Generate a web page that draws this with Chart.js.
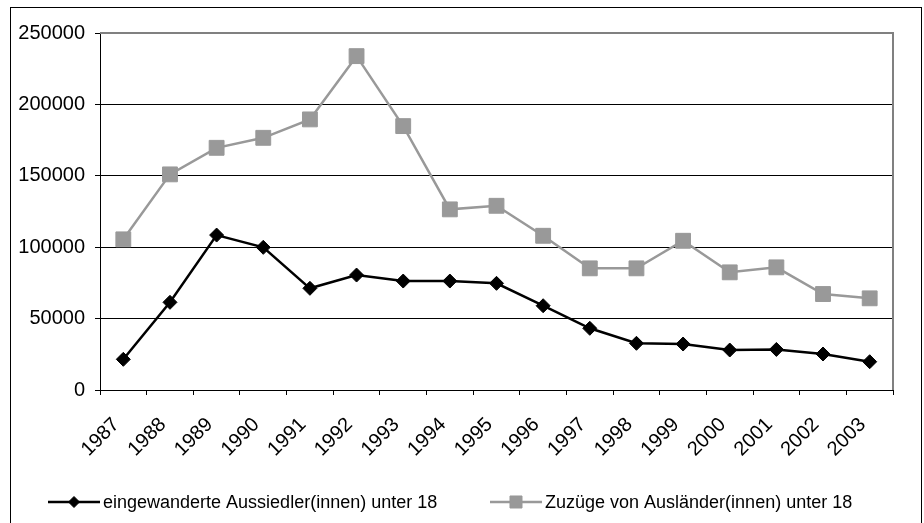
<!DOCTYPE html>
<html>
<head>
<meta charset="utf-8">
<script src="https://cdn.jsdelivr.net/npm/chart.js@4"></script>
<style>
    html, body { margin: 0; padding: 0; background: #fff; }
    #wrap { position: relative; width: 924px; height: 523px; }
</style>
</head>
<body>
<div id="wrap"><canvas id="chart" width="924" height="523"></canvas></div>
<script>
// Data
const years = ['1987', '1988', '1989', '1990', '1991', '1992', '1993', '1994', '1995',
    '1996', '1997', '1998', '1999', '2000', '2001', '2002', '2003'];
const aussiedler = [21500, 61400, 108500, 99900, 71200, 80500, 76300, 76300, 74700,
    59000, 43200, 32700, 32200, 28000, 28400, 25200, 19800];
const auslaender = [105500, 151000, 169600, 176600, 189500, 233800, 184800, 126500, 129000,
    108000, 85200, 85200, 104500, 82400, 85900, 67200, 64200];
const yTicks = [0, 50000, 100000, 150000, 200000, 250000];

const FONT = "'Liberation Sans', Arial, sans-serif";

// Frame around whole chart + gray plot border (top/right) + custom legend
const decorPlugin = {
    id: 'decor',
    beforeDatasetsDraw(chart) {
        const { ctx, chartArea: a } = chart;
        ctx.save();
        ctx.strokeStyle = '#808080';
        ctx.lineWidth = 2;
        ctx.beginPath();
        ctx.moveTo(a.left, a.top);
        ctx.lineTo(a.right, a.top);
        ctx.lineTo(a.right, a.bottom);
        ctx.stroke();
        ctx.restore();
    },
    afterDraw(chart) {
        const ctx = chart.ctx;
        ctx.save();
        // outer frame
        ctx.strokeStyle = '#000';
        ctx.lineWidth = 1;
        ctx.strokeRect(10.5, 7.5, 911, 530);

        // legend
        const ly = chart.height - 21;
        const items = [
            { x: 48, ds: chart.data.datasets[0], r: 5.5 },
            { x: 490, ds: chart.data.datasets[1], r: 8.5 }
        ];
        ctx.font = '18px ' + FONT;
        ctx.textBaseline = 'middle';
        ctx.textAlign = 'left';
        items.forEach(it => {
            ctx.strokeStyle = it.ds.borderColor;
            ctx.lineWidth = 2.5;
            ctx.beginPath();
            ctx.moveTo(it.x, ly);
            ctx.lineTo(it.x + 52, ly);
            ctx.stroke();
            ctx.fillStyle = it.ds.pointBackgroundColor;
            ctx.lineWidth = 1;
            Chart.helpers.drawPoint(ctx, { pointStyle: it.ds.pointStyle, radius: it.r, borderWidth: 1 }, it.x + 26, ly);
            ctx.fillStyle = '#000';
            ctx.fillText(it.ds.label, it.x + 55, ly + 1);
        });
        ctx.restore();
    }
};

const ctx = document.getElementById('chart');
new Chart(ctx, {
    type: 'line',
    data: {
        labels: years,
        datasets: [{
            label: 'eingewanderte Aussiedler(innen) unter 18',
            data: aussiedler,
            borderColor: '#000',
            backgroundColor: '#000',
            pointBackgroundColor: '#000',
            pointBorderColor: '#000',
            pointStyle: 'rectRot',
            pointRadius: 7,
            pointBorderWidth: 1,
            borderWidth: 2.5,
            tension: 0
        }, {
            label: 'Zuzüge von Ausländer(innen) unter 18',
            data: auslaender,
            borderColor: '#999999',
            backgroundColor: '#999999',
            pointBackgroundColor: '#999999',
            pointBorderColor: '#999999',
            pointStyle: 'rect',
            pointRadius: 10.5,
            pointBorderWidth: 1,
            borderWidth: 2.5,
            tension: 0
        }]
    },
    options: {
        responsive: false,
        animation: false,
        layout: { padding: { top: 33, right: 31, bottom: 53, left: 0 } },
        plugins: {
            legend: { display: false },
            tooltip: { enabled: false }
        },
        scales: {
            x: {
                type: 'category',
                offset: true,
                afterFit(scale) { scale.height = 80; },
                grid: {
                    offset: true,
                    drawOnChartArea: false,
                    drawTicks: true,
                    tickLength: 5,
                    color: '#000'
                },
                border: { color: '#000', width: 1 },
                ticks: {
                    autoSkip: false,
                    maxRotation: 45,
                    minRotation: 45,
                    labelOffset: -7,
                    padding: 18,
                    color: '#000',
                    font: { family: FONT, size: 20 }
                }
            },
            y: {
                min: 0,
                max: 250000,
                afterFit(scale) { scale.width = 100; },
                afterBuildTicks(scale) { scale.ticks = yTicks.map(v => ({ value: v })); },
                grid: {
                    color: '#000',
                    lineWidth: 1,
                    tickLength: 5
                },
                border: { color: '#000', width: 1 },
                ticks: {
                    padding: 10,
                    color: '#000',
                    font: { family: FONT, size: 20 },
                    callback: v => String(v)
                }
            }
        }
    },
    plugins: [decorPlugin]
});
</script>
</body>
</html>
